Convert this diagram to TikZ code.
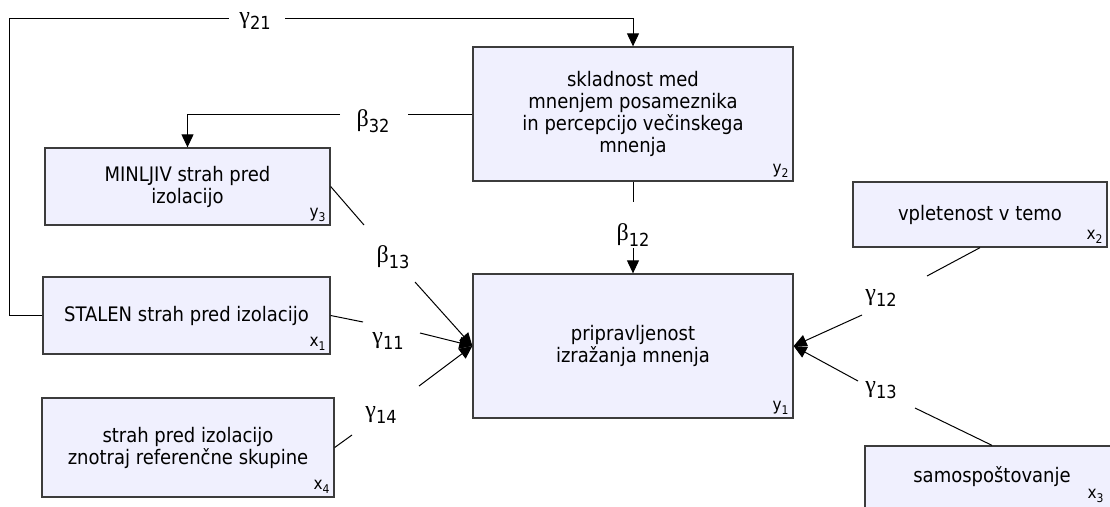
\documentclass[tikz,border=0pt]{standalone}
\usepackage{fontspec}
\setmainfont{DejaVu Sans Condensed}
\newfontfamily\grk{Liberation Serif}
\usetikzlibrary{arrows.meta}
\definecolor{boxfill}{RGB}{240,240,254}
\definecolor{boxline}{RGB}{60,60,60}
\tikzset{
 box/.style={draw=boxline, line width=1.3pt, fill=boxfill, inner sep=0pt, align=center, font=\fontsize{20}{22}\selectfont},
 conn/.style={line width=1pt, draw=black},
 arr/.style={conn, -{Triangle[length=13pt,width=12pt]}},
 coef/.style={inner sep=0pt},
 tag/.style={anchor=south east, inner sep=0pt, font=\fontsize{17}{17}\selectfont}
}
\newcommand\cf[2]{{\fontsize{24}{24}\selectfont\grk #1}{\fontsize{18}{18}\selectfont\raisebox{-6pt}{#2}}}
\newcommand\tg[2]{#1\raisebox{-3.5pt}{\fontsize{12}{12}\selectfont #2}}
\begin{document}
\begin{tikzpicture}[x=1pt,y=-1pt]
\useasboundingbox (0,0) rectangle (1110,506);
\clip (0,0) rectangle (1110,506);
% boxes
\node[box, minimum width=320pt, minimum height=134pt] (y2) at (633,114) {skladnost med\\ mnenjem posameznika\\in percepcijo večinskega\\mnenja};
\node[box, minimum width=285pt, minimum height=77pt] (y3) at (187.5,186.5) {MINLJIV strah pred\\izolacijo};
\node[box, minimum width=287pt, minimum height=77pt] (x1) at (186.5,315.5) {STALEN strah pred izolacijo};
\node[box, minimum width=292pt, minimum height=99pt] (x4) at (188,447.5) {strah pred izolacijo\\znotraj referenčne skupine};
\node[box, minimum width=320pt, minimum height=144pt] (y1) at (633,346) {pripravljenost\\izražanja mnenja};
\node[box, minimum width=254pt, minimum height=65pt] (x2) at (980,214.5) {vpletenost v temo};
\node[box, minimum width=254pt, minimum height=62pt] (x3) at (992,477) {samospoštovanje};
% tags
\node[tag, xshift=-5pt, yshift=4pt] (ty2) at (y2.south east) {\tg{y}{2}};
\node[tag, xshift=-5pt, yshift=4pt] (ty3) at (y3.south east) {\tg{y}{3}};
\node[tag, xshift=-5pt, yshift=4pt] (tx1) at (x1.south east) {\tg{x}{1}};
\node[tag, xshift=-5pt, yshift=4pt] (tx4) at (x4.south east) {\tg{x}{4}};
\node[tag, xshift=-5pt, yshift=4pt] (ty1) at (y1.south east) {\tg{y}{1}};
\node[tag, xshift=-5pt, yshift=4pt] (tx2) at (x2.south east) {\tg{x}{2}};
\node[tag, xshift=-16pt, yshift=6pt] (tx3) at (x3.south east) {\tg{x}{3}};
% coefficient labels
\node[coef] (c21) at (255,21) {\cf{γ}{21}};
\node[coef] (c32) at (373,121) {\cf{β}{32}};
\node[coef] (c12) at (633,235) {\cf{β}{12}};
\node[coef] (c13) at (393,257) {\cf{β}{13}};
\node[coef] (c11) at (388,341) {\cf{γ}{11}};
\node[coef] (c14) at (381,415) {\cf{γ}{14}};
\node[coef] (c12g) at (881,298) {\cf{γ}{12}};
\node[coef] (c13g) at (881,390) {\cf{γ}{13}};
% gap ends
\coordinate (g21w) at (229,18);
\coordinate (g21e) at (285,18);
\coordinate (b32e) at (408,114);
\coordinate (b32w) at (340,114);
\coordinate (b12n) at (633,202);
\coordinate (b12s) at (633,248);
\coordinate (b13a) at (364,225);
\coordinate (b13b) at (415,282);
\coordinate (g11a) at (363,322);
\coordinate (g11b) at (420,333);
\coordinate (g14a) at (352,435);
\coordinate (g14b) at (419,386);
\coordinate (g12a) at (927,276);
\coordinate (g12b) at (862,315);
\coordinate (g13a) at (915,408);
\coordinate (g13b) at (858,381);
% connectors
\draw[conn] (x1.west) -- ++(-33,0) |- (g21w);
\draw[arr] (g21e) -| (y2.north);
\draw[conn] (y2.west) -- (b32e);
\draw[arr] (b32w) -| (y3.north);
\draw[conn] (y2.south) -- (b12n);
\draw[arr] (b12s) -- (y1.north);
\draw[conn] (y3.east) -- (b13a);
\draw[arr] (b13b) -- (y1.west);
\draw[conn] (x1.east) -- (g11a);
\draw[arr] (g11b) -- (y1.west);
\draw[conn] (x4.east) -- (g14a);
\draw[arr] (g14b) -- (y1.west);
\draw[conn] (x2.south) -- (g12a);
\draw[arr] (g12b) -- (y1.east);
\draw[conn] (x3.north) -- (g13a);
\draw[arr] (g13b) -- (y1.east);
\end{tikzpicture}
\end{document}
